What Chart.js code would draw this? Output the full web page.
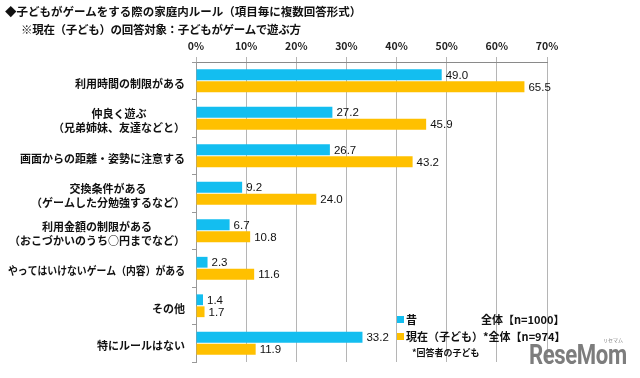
<!DOCTYPE html>
<html>
<head>
<meta charset="utf-8">
<script src="https://cdn.jsdelivr.net/npm/chart.js@4/dist/chart.umd.min.js"></script>
<style>
  html, body { margin:0; padding:0; background:#fff; }
  #wrap { position:relative; width:640px; height:378px; overflow:hidden; font-family:"Noto Sans CJK JP", sans-serif; }
  canvas { position:absolute; left:0; top:0; }
  .t { position:absolute; white-space:nowrap; font-weight:bold; color:#111; line-height:1; }
  .sq { position:absolute; width:7px; height:7px; }
</style>
</head>
<body>
<div id="wrap">
  <canvas id="c" width="640" height="378"></canvas>
  <div class="t" style="left:5px;top:6px;font-size:11.5px;">◆子どもがゲームをする際の家庭内ルール（項目毎に複数回答形式）</div>
  <div class="t" style="left:21px;top:24px;font-size:11.5px;letter-spacing:-0.3px;">※現在（子ども）の回答対象：子どもがゲームで遊ぶ方</div>

  <div class="sq" style="left:397px;top:316px;background:#13BEF0;"></div>
  <div class="t" style="left:406px;top:314px;font-size:11px;">昔</div>
  <div class="t" style="left:481px;top:314px;font-size:11px;">全体【n=1000】</div>
  <div class="sq" style="left:397px;top:333px;background:#FFC000;"></div>
  <div class="t" style="left:406px;top:331px;font-size:11px;">現在（子ども）*全体【n=974】</div>
  <div class="t" style="left:412px;top:348px;font-size:9px;">*回答者の子ども</div>

  <div class="t" style="left:529px;top:342px;font-size:27px;font-family:Roboto,sans-serif;color:#7d7d7d;transform:scaleX(0.82);transform-origin:left top;letter-spacing:-0.5px;">ReseMom</div>
  <div class="t" style="left:603px;top:337px;font-size:5px;color:#7d7d7d;font-weight:normal;">リセマム</div>
</div>
<script>
const categories = [
  ["利用時間の制限がある"],
  ["仲良く遊ぶ", "（兄弟姉妹、友達などと）"],
  ["画面からの距離・姿勢に注意する"],
  ["交換条件がある", "（ゲームした分勉強するなど）"],
  ["利用金額の制限がある", "（おこづかいのうち○円までなど）"],
  ["やってはいけないゲーム（内容）がある"],
  ["その他"],
  ["特にルールはない"]
];
const seriesNames = ["昔", "現在（子ども）"];
const pastValues = [49.0, 27.2, 26.7, 9.2, 6.7, 2.3, 1.4, 33.2];
const currentValues = [65.5, 45.9, 43.2, 24.0, 10.8, 11.6, 1.7, 11.9];
const xTicks = [0, 10, 20, 30, 40, 50, 60, 70];

const catLabelPlugin = {
  id: 'catLabels',
  afterDraw(chart) {
    const ctx = chart.ctx;
    const y = chart.scales.y;
    ctx.save();
    ctx.font = 'bold 11px "Noto Sans CJK JP"';
    ctx.fillStyle = '#111';
    ctx.textAlign = 'center';
    ctx.textBaseline = 'middle';
    const right = 185, lh = 14, maxAllowed = 177;
    categories.forEach((lines, i) => {
      const cy = y.getPixelForValue(i) + 3;
      const maxW = Math.min(maxAllowed, Math.max(...lines.map(l => ctx.measureText(l).width)));
      const cx = right - maxW / 2;
      const start = cy - (lines.length - 1) * lh / 2;
      lines.forEach((l, k) => ctx.fillText(l, cx, start + k * lh, maxAllowed));
    });
    ctx.restore();
  }
};

const valueLabelPlugin = {
  id: 'valueLabels',
  afterDatasetsDraw(chart) {
    const ctx = chart.ctx;
    ctx.save();
    ctx.font = '11.5px "Liberation Sans"';
    ctx.fillStyle = '#111';
    ctx.textAlign = 'left';
    ctx.textBaseline = 'middle';
    chart.data.datasets.forEach((ds, di) => {
      const meta = chart.getDatasetMeta(di);
      meta.data.forEach((bar, i) => {
        ctx.fillText(ds.data[i].toFixed(1), bar.x + 4, bar.y + 1);
      });
    });
    ctx.restore();
  }
};

new Chart(document.getElementById('c'), {
  type: 'bar',
  data: {
    labels: categories,
    datasets: [
      { label: seriesNames[0], data: pastValues, backgroundColor: '#13BEF0', categoryPercentage: 0.64, barPercentage: 0.9 },
      { label: seriesNames[1], data: currentValues, backgroundColor: '#FFC000', categoryPercentage: 0.64, barPercentage: 0.9 }
    ]
  },
  options: {
    indexAxis: 'y',
    responsive: false,
    animation: false,
    layout: { padding: { left: 0, right: 93, top: 0, bottom: 16 } },
    plugins: { legend: { display: false }, tooltip: { enabled: false }, title: { display: false } },
    scales: {
      x: {
        position: 'top',
        min: 0, max: 70,
        afterBuildTicks(scale) { scale.ticks = xTicks.map(v => ({ value: v })); },
        afterFit(scale) { scale.height = 62; },
        ticks: {
          callback: v => v + '%',
          font: { family: '"Noto Sans CJK JP"', size: 10.5, weight: 'bold' },
          color: '#222',
          padding: 5,
          maxRotation: 0
        },
        grid: { color: '#b5b5b5', lineWidth: 1, tickLength: 5 },
        border: { color: '#8a8a8a', width: 1 }
      },
      y: {
        type: 'category',
        offset: true,
        afterFit(scale) { scale.width = 196; },
        ticks: { display: false },
        grid: { drawOnChartArea: false, tickLength: 4, color: '#999', offset: true },
        border: { color: '#999', width: 1 }
      }
    }
  },
  plugins: [catLabelPlugin, valueLabelPlugin]
});
</script>
</body>
</html>
